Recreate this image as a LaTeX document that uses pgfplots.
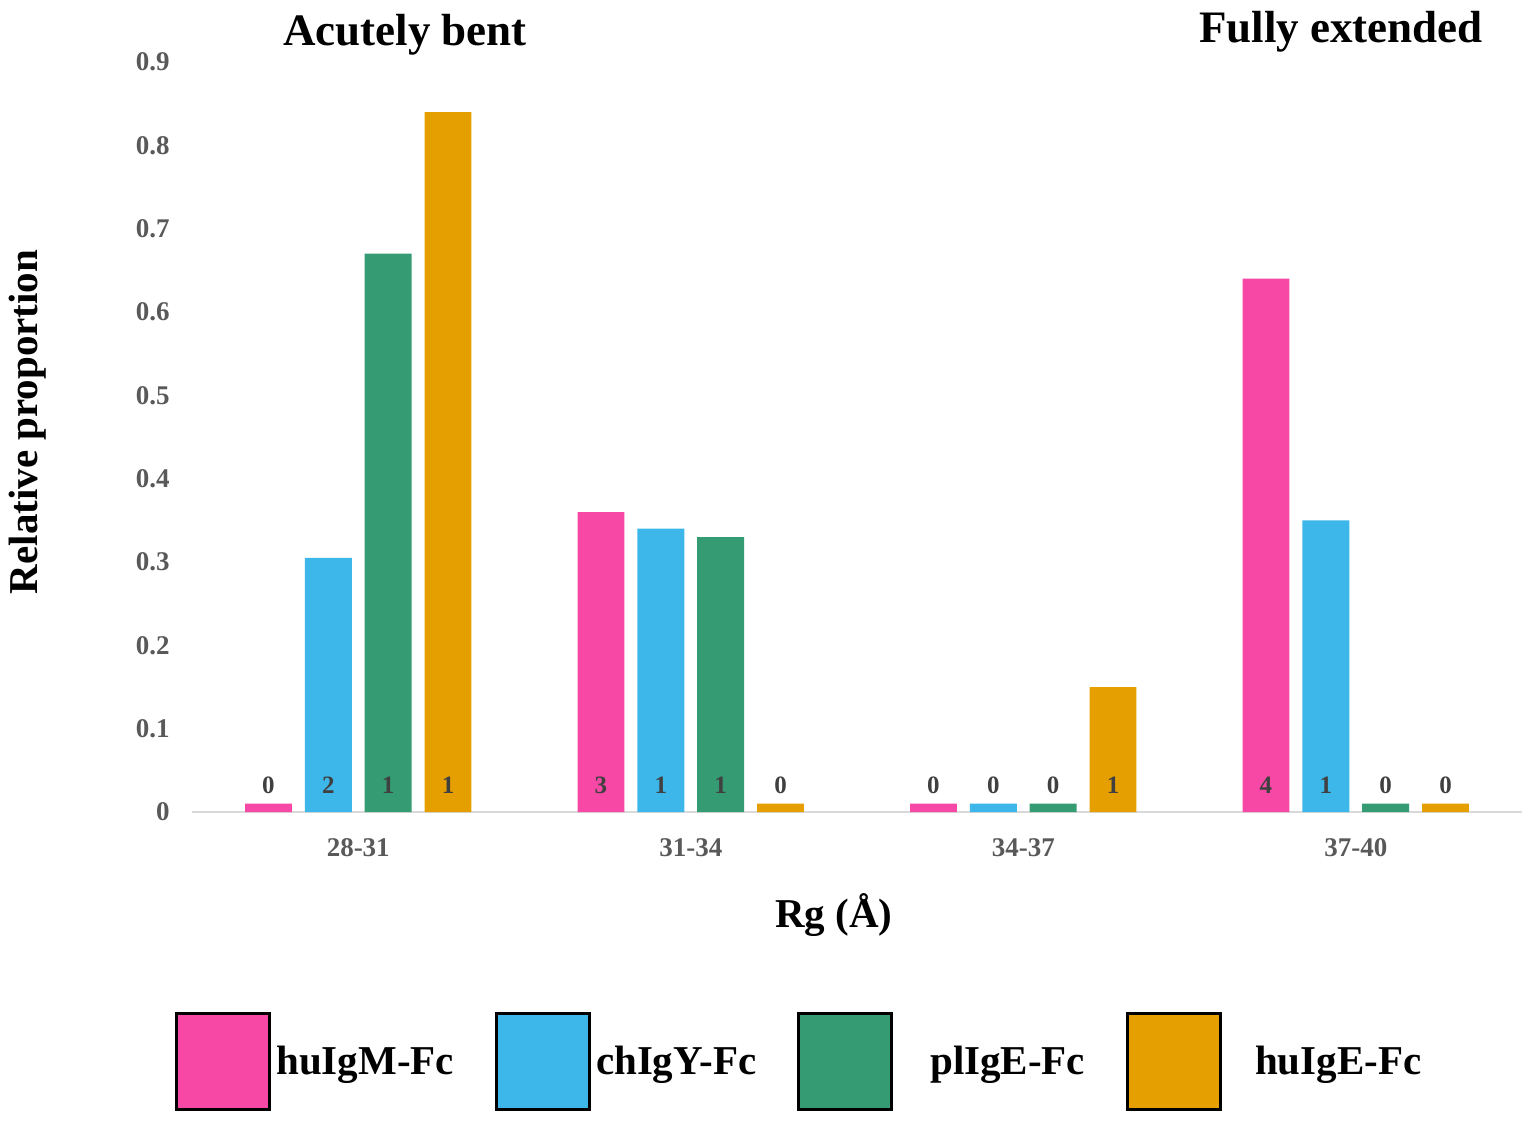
\documentclass[border=0pt]{standalone}
\usepackage{pgfplots}
\pgfplotsset{compat=1.18}
\usepackage{fontspec}
\setmainfont{Liberation Serif}
\definecolor{cpink}{HTML}{F748A5}
\definecolor{cblue}{HTML}{3DB7E9}
\definecolor{cgreen}{HTML}{359B73}
\definecolor{corange}{HTML}{E69F00}
\definecolor{tickgray}{HTML}{595959}
\definecolor{labelgray}{HTML}{404040}
\definecolor{axisgray}{HTML}{D9D9D9}
\begin{document}
\begin{tikzpicture}
\useasboundingbox (0,0) rectangle (767.5pt,-566pt);
\begin{axis}[
  at={(96pt,-406pt)}, anchor=south west,
  scale only axis, width=665pt, height=375pt,
  xmin=-0.5, xmax=3.5, ymin=0, ymax=0.9,
  axis x line*=bottom, axis y line*=left,
  x axis line style={draw=axisgray, line width=1pt, -},
  y axis line style={draw=none},
  major tick length=0pt,
  xtick={0,1,2,3}, xticklabels={28-31,31-34,34-37,37-40},
  ytick={0,0.1,0.2,0.3,0.4,0.5,0.6,0.7,0.8,0.9},
  yticklabels={0,0.1,0.2,0.3,0.4,0.5,0.6,0.7,0.8,0.9},
  tick label style={font=\fontsize{13.5}{16}\selectfont\bfseries, text=tickgray},
  xticklabel style={anchor=north, inner sep=0pt, yshift=-13pt},
  yticklabel style={anchor=east, inner sep=0pt, xshift=-11pt},
  bar width=0.141,
  clip=false,
  legend columns=4,
  legend style={at={(axis description cs:-0.0128,-0.333)}, anchor=west,
    draw=none, fill=none, inner sep=0pt,
    font=\fontsize{20.5}{24}\selectfont\bfseries,
    nodes={inner sep=2.5pt},
    /tikz/every even column/.append style={column sep=18pt}},
  legend image code/.code={\draw[#1, draw=black, line width=1.5pt] (0pt,-24pt) rectangle (46.5pt,24pt);},
]
\addplot[ybar, bar shift=-0.27, fill=cpink, draw=none] coordinates {(0,0.01) (1,0.36) (2,0.01) (3,0.64)};
\addlegendentry{huIgM-Fc}
\addplot[ybar, bar shift=-0.09, fill=cblue, draw=none] coordinates {(0,0.305) (1,0.34) (2,0.01) (3,0.35)};
\addlegendentry{chIgY-Fc}
\addplot[ybar, bar shift=0.09, fill=cgreen, draw=none] coordinates {(0,0.67) (1,0.33) (2,0.01) (3,0.01)};
\addlegendentry{\hspace*{16pt}plIgE-Fc}
\addplot[ybar, bar shift=0.27, fill=corange, draw=none] coordinates {(0,0.84) (1,0.01) (2,0.15) (3,0.01)};
\addlegendentry{\hspace*{14pt}huIgE-Fc}
\addplot[draw=none, mark=none, forget plot, nodes near coords, point meta=explicit symbolic,
  every node near coord/.append style={anchor=center, inner sep=0pt,
    font=\fontsize{12.5}{15}\selectfont\bfseries, text=labelgray}]
  coordinates {
  (-0.27,0.032) [0] (-0.09,0.032) [2] (0.09,0.032) [1] (0.27,0.032) [1]
  (0.73,0.032) [3] (0.91,0.032) [1] (1.09,0.032) [1] (1.27,0.032) [0]
  (1.73,0.032) [0] (1.91,0.032) [0] (2.09,0.032) [0] (2.27,0.032) [1]
  (2.73,0.032) [4] (2.91,0.032) [1] (3.09,0.032) [0] (3.27,0.032) [0]
  };
\end{axis}
\node[anchor=base, font=\fontsize{22.5}{27}\selectfont\bfseries] at (202.5pt,-22.5pt) {Acutely bent};
\node[anchor=base, font=\fontsize{22.5}{27}\selectfont\bfseries] at (670.5pt,-21pt) {Fully extended};
\node[rotate=90, font=\fontsize{20.5}{24}\selectfont\bfseries] at (14pt,-211pt) {Relative proportion};
\node[font=\fontsize{20.5}{24}\selectfont\bfseries] at (417pt,-457.5pt) {Rg (Å)};
\end{tikzpicture}
\end{document}
